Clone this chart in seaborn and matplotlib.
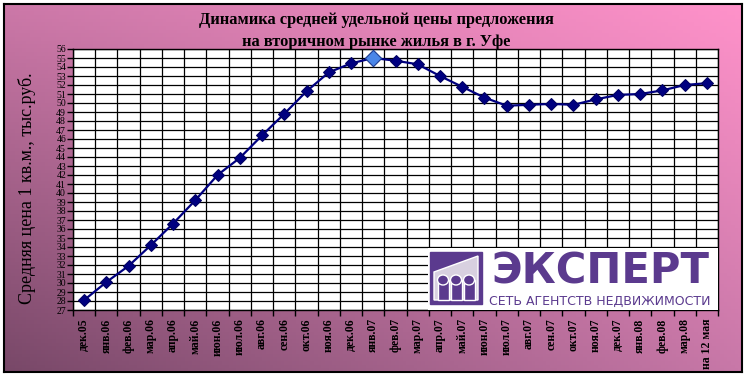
import numpy as np
import pandas as pd
import matplotlib
matplotlib.use("Agg")
import matplotlib.pyplot as plt
import seaborn as sns
from matplotlib.patches import Rectangle, Polygon, Ellipse

months = ["дек.05", "янв.06", "фев.06", "мар.06", "апр.06", "май.06", "июн.06",
          "июл.06", "авг.06", "сен.06", "окт.06", "ноя.06", "дек.06", "янв.07",
          "фев.07", "мар.07", "апр.07", "май.07", "июн.07", "июл.07", "авг.07",
          "сен.07", "окт.07", "ноя.07", "дек.07", "янв.08", "фев.08", "мар.08",
          "на 12 мая"]
prices = [28.1, 30.1, 31.9, 34.2, 36.6, 39.2, 42.0, 43.9, 46.4, 48.8, 51.3, 53.4,
          54.4, 55.0, 54.7, 54.3, 53.0, 51.8, 50.6, 49.7, 49.8, 49.9, 49.8, 50.4,
          50.9, 51.0, 51.4, 52.0, 52.2]
y_ticks = list(range(27, 57))

title = "Динамика средней удельной цены предложения\nна вторичном рынке жилья в г. Уфе"
ylabel = "Средняя цена 1 кв.м., тыс.руб."

df = pd.DataFrame({"pos": np.arange(len(months)), "month": months, "price": prices})

sns.set_theme(style="white")
plt.rcParams["font.family"] = ["Liberation Serif", "DejaVu Serif"]
plt.rcParams["text.color"] = "black"
plt.rcParams["xtick.color"] = "black"
plt.rcParams["ytick.color"] = "black"
plt.rcParams["xtick.labelcolor"] = "black"
plt.rcParams["ytick.labelcolor"] = "black"

W, H = 749, 376
fig = plt.figure(figsize=(W / 100, H / 100), dpi=100)
fig.patch.set_facecolor("white")

# gradient background frame
bg = fig.add_axes([4 / W, 4 / H, 738 / W, 368 / H], zorder=0)
tl = np.array([204, 120, 168]) / 255
tr = np.array([255, 146, 202]) / 255
bl = np.array([120, 72, 104]) / 255
br = np.array([200, 120, 168]) / 255
u = np.linspace(0, 1, 200)[None, :, None]
v = np.linspace(0, 1, 100)[:, None, None]
img = (1 - v) * ((1 - u) * tl + u * tr) + v * ((1 - u) * bl + u * br)
bg.imshow(img, aspect="auto", extent=[0, 1, 0, 1])
bg.set_xticks([]); bg.set_yticks([])
for s in bg.spines.values():
    s.set_color("black"); s.set_linewidth(1.5)

ax = fig.add_axes([73 / W, 1 - 310 / H, 645 / W, 261 / H], zorder=1)
ax.set_facecolor("white")
sns.lineplot(data=df, x="pos", y="price", ax=ax, color="#000080", lw=1.6,
             marker="D", markersize=6.5, markeredgecolor="#000060", markerfacecolor="#000080",
             zorder=3)
imax = int(np.argmax(prices))
sns.scatterplot(x=[df["pos"][imax]], y=[df["price"][imax]], ax=ax, marker="D", s=70,
                color="#4a86e8", edgecolor="#1a3a90", linewidth=0.8, zorder=4)

ax.set_xlim(-0.5, len(months) - 0.5)
ax.set_ylim(27, 56)
ax.set_yticks(y_ticks)
ax.set_yticklabels([str(t) for t in y_ticks], fontsize=7)
ax.set_xticks(df["pos"])
ax.set_xticklabels(months, rotation=90, fontsize=8.5, fontweight="bold")
ax.set_xticks(np.arange(len(months) + 1) - 0.5, minor=True)
ax.tick_params(axis="x", which="major", length=0, pad=6)
ax.tick_params(axis="x", which="minor", length=4, width=1, color="black", direction="out", bottom=True)
ax.tick_params(axis="y", length=4, width=1, color="black", direction="out", left=True, pad=1)
ax.grid(False)
for yv in y_ticks:
    ax.axhline(yv, color="black", lw=0.9, zorder=1)
for xv in np.arange(len(months) + 1) - 0.5:
    ax.axvline(xv, color="black", lw=0.9, zorder=1)
for s in ax.spines.values():
    s.set_color("black"); s.set_linewidth(1)
ax.set_xlabel("")
ax.set_ylabel("")

fig.text(376 / W, 1 - 31 / H, title, ha="center", va="center", fontsize=11.8,
         fontweight="bold", linespacing=1.45, color="black")
fig.text(27 / W, 1 - 188 / H, ylabel, rotation=90, ha="center", va="center",
         fontsize=13, color="black")

# logo
lg = fig.add_axes([428 / W, 1 - 310 / H, 290 / W, 62 / H], zorder=5)
lg.set_xlim(0, 290); lg.set_ylim(62, 0)
lg.set_facecolor("white")
lg.set_xticks([]); lg.set_yticks([])
for s in lg.spines.values():
    s.set_visible(False)
purple = "#5b3a8e"
lg.add_patch(Rectangle((2, 4), 52, 52, facecolor=purple, edgecolor=purple))
lg.add_patch(Polygon([[6, 24], [50, 8], [50, 52], [6, 52]], closed=True, facecolor="#d8d0e0"))
for cx in [15, 28, 41]:
    lg.add_patch(Rectangle((cx - 5.5, 32), 11, 20, facecolor=purple))
    lg.add_patch(Ellipse((cx, 32), 11, 10, facecolor=purple))
lg.text(172, 24, "ЭКСПЕРТ", ha="center", va="center", fontsize=30, fontweight="bold",
        color=purple, family=["DejaVu Sans"])
lg.text(172, 53, "СЕТЬ АГЕНТСТВ НЕДВИЖИМОСТИ", ha="center", va="center", fontsize=9,
        color=purple, family=["DejaVu Sans"])

fig.savefig("out.png", dpi=100)
